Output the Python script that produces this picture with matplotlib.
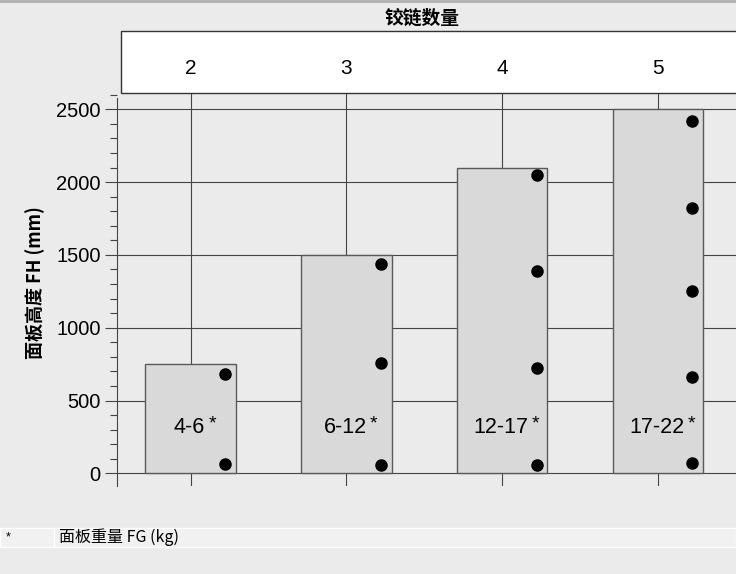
import matplotlib
matplotlib.use("Agg")
import matplotlib.pyplot as plt
from matplotlib.patches import Rectangle
from matplotlib.lines import Line2D
from matplotlib.transforms import blended_transform_factory
from matplotlib.ticker import MultipleLocator

# ---- data ----
hinge_counts = ['2', '3', '4', '5']
max_panel_height = [750, 1500, 2100, 2500]
weight_labels = ['4-6', '6-12', '12-17', '17-22']
hinge_positions = [
    [680, 65],
    [1440, 755, 55],
    [2050, 1390, 720, 57],
    [2420, 1820, 1250, 662, 70],
]
title_text = '铰链数量'
ylabel_text = '面板高度 FH (mm)'
footnote_mark = '*'
footnote_text = '面板重量 FG (kg)'
yticks = [0, 500, 1000, 1500, 2000, 2500]

W, H = 736, 574
BG = '#ebebeb'
LINE = '#444444'
CJK = ['Noto Sans CJK SC', 'DejaVu Sans']
LAT = ['Liberation Sans', 'DejaVu Sans']

fig = plt.figure(figsize=(W / 100, H / 100), dpi=100)
fig.patch.set_facecolor(BG)

def fx(px):
    return px / W

def fy(py):
    return 1 - py / H

# top strip
fig.add_artist(Rectangle((0, fy(3.3)), 1, 3.3 / H, transform=fig.transFigure,
                         facecolor='#b4b4b4', edgecolor='none'))

# axes geometry (pixels)
ax_left, ax_right, ax_top, ax_bottom = 117.4, 736.0, 93.3, 486.0
ax = fig.add_axes([fx(ax_left), fy(ax_bottom), fx(ax_right - ax_left),
                   (ax_bottom - ax_top) / H])
ax.set_facecolor(BG)

px_per_mm = (473.3 - 109.3) / 2500.0
y0_px = 473.3
ymin = (y0_px - ax_bottom) / px_per_mm
ymax = (y0_px - ax_top) / px_per_mm
ax.set_ylim(ymin, ymax)

x0_px, dx_px = 190.5, 155.76
xmin = (ax_left - x0_px) / dx_px
xmax = (ax_right - x0_px) / dx_px
ax.set_xlim(xmin, xmax)

pos = list(range(len(hinge_counts)))
bar_w = 90.5 / dx_px
dot_off = 34.7 / dx_px

# vertical category lines
ax.vlines(pos, ymin, ymax, colors=LINE, linewidth=0.8, zorder=1)
# horizontal gridlines
ax.hlines(yticks, xmin, xmax, colors=LINE, linewidth=0.8, zorder=1)

# bars
ax.bar(pos, max_panel_height, width=bar_w, color='#d9d9d9', edgecolor='#5a5a5a',
       linewidth=1.0, zorder=2)

# hinge dots
for i, ys in enumerate(hinge_positions):
    ax.plot([i + dot_off] * len(ys), ys, 'o', color='black', markersize=8,
            zorder=3, linestyle='none')

# weight labels with raised asterisk
for i, lab in enumerate(weight_labels):
    t = ax.text(i - 0.008, 316, lab, ha='center', va='center', fontsize=15.5,
                family=LAT, zorder=4)
    ax.annotate('*', xy=(1, 1), xycoords=t, xytext=(2.5, 1),
                textcoords='offset points', ha='left', va='top', fontsize=14,
                family=LAT, zorder=4)

# spines / ticks
for s in ['top', 'right', 'bottom']:
    ax.spines[s].set_visible(False)
ax.spines['left'].set_color(LINE)
ax.spines['left'].set_linewidth(0.8)
spine_top = (y0_px - 98.3) / px_per_mm
ax.spines['left'].set_bounds(ymin, spine_top)
ax.set_xticks([])
ax.set_yticks(yticks)
ax.yaxis.set_minor_locator(MultipleLocator(100))
ax.tick_params(axis='y', which='major', length=8.6, width=0.8, color=LINE,
               pad=3.5, labelsize=14.5)
ax.tick_params(axis='y', which='minor', length=5.0, width=0.8, color=LINE)
for t in ax.get_yticklabels():
    t.set_family(LAT)

# y label
fig.text(fx(35), fy(283), ylabel_text, rotation=90, ha='center', va='center',
         fontsize=13, fontweight='bold', family=CJK)

# header box
fig.add_artist(Rectangle((fx(121), fy(93.3)), fx(736 - 121 + 5), (93.3 - 30.7) / H,
                         transform=fig.transFigure, facecolor='white',
                         edgecolor='#333333', linewidth=1.0))
trans = blended_transform_factory(ax.transData, fig.transFigure)
for i, h in enumerate(hinge_counts):
    fig.text(i, fy(69), h, transform=trans, ha='center', va='center',
             fontsize=15, family=LAT)
fig.text(fx(422), fy(18), title_text, ha='center', va='center', fontsize=13.5,
         fontweight='bold', family=CJK)

# footer band
fig.add_artist(Rectangle((0, fy(547.3)), 1, (547.3 - 527.7) / H,
                         transform=fig.transFigure, facecolor='#f1f1f1',
                         edgecolor='white', linewidth=1.0))
fig.add_artist(Line2D([fx(54), fx(54)], [fy(547.3), fy(527.7)],
                      transform=fig.transFigure, color='white', linewidth=1.0))
fig.text(fx(6), fy(537.5), footnote_mark, ha='left', va='center', fontsize=9,
         family=LAT)
fig.text(fx(59), fy(537.5), footnote_text, ha='left', va='center', fontsize=11.5,
         family=CJK)

fig.savefig('out.png', dpi=100, facecolor=BG)
